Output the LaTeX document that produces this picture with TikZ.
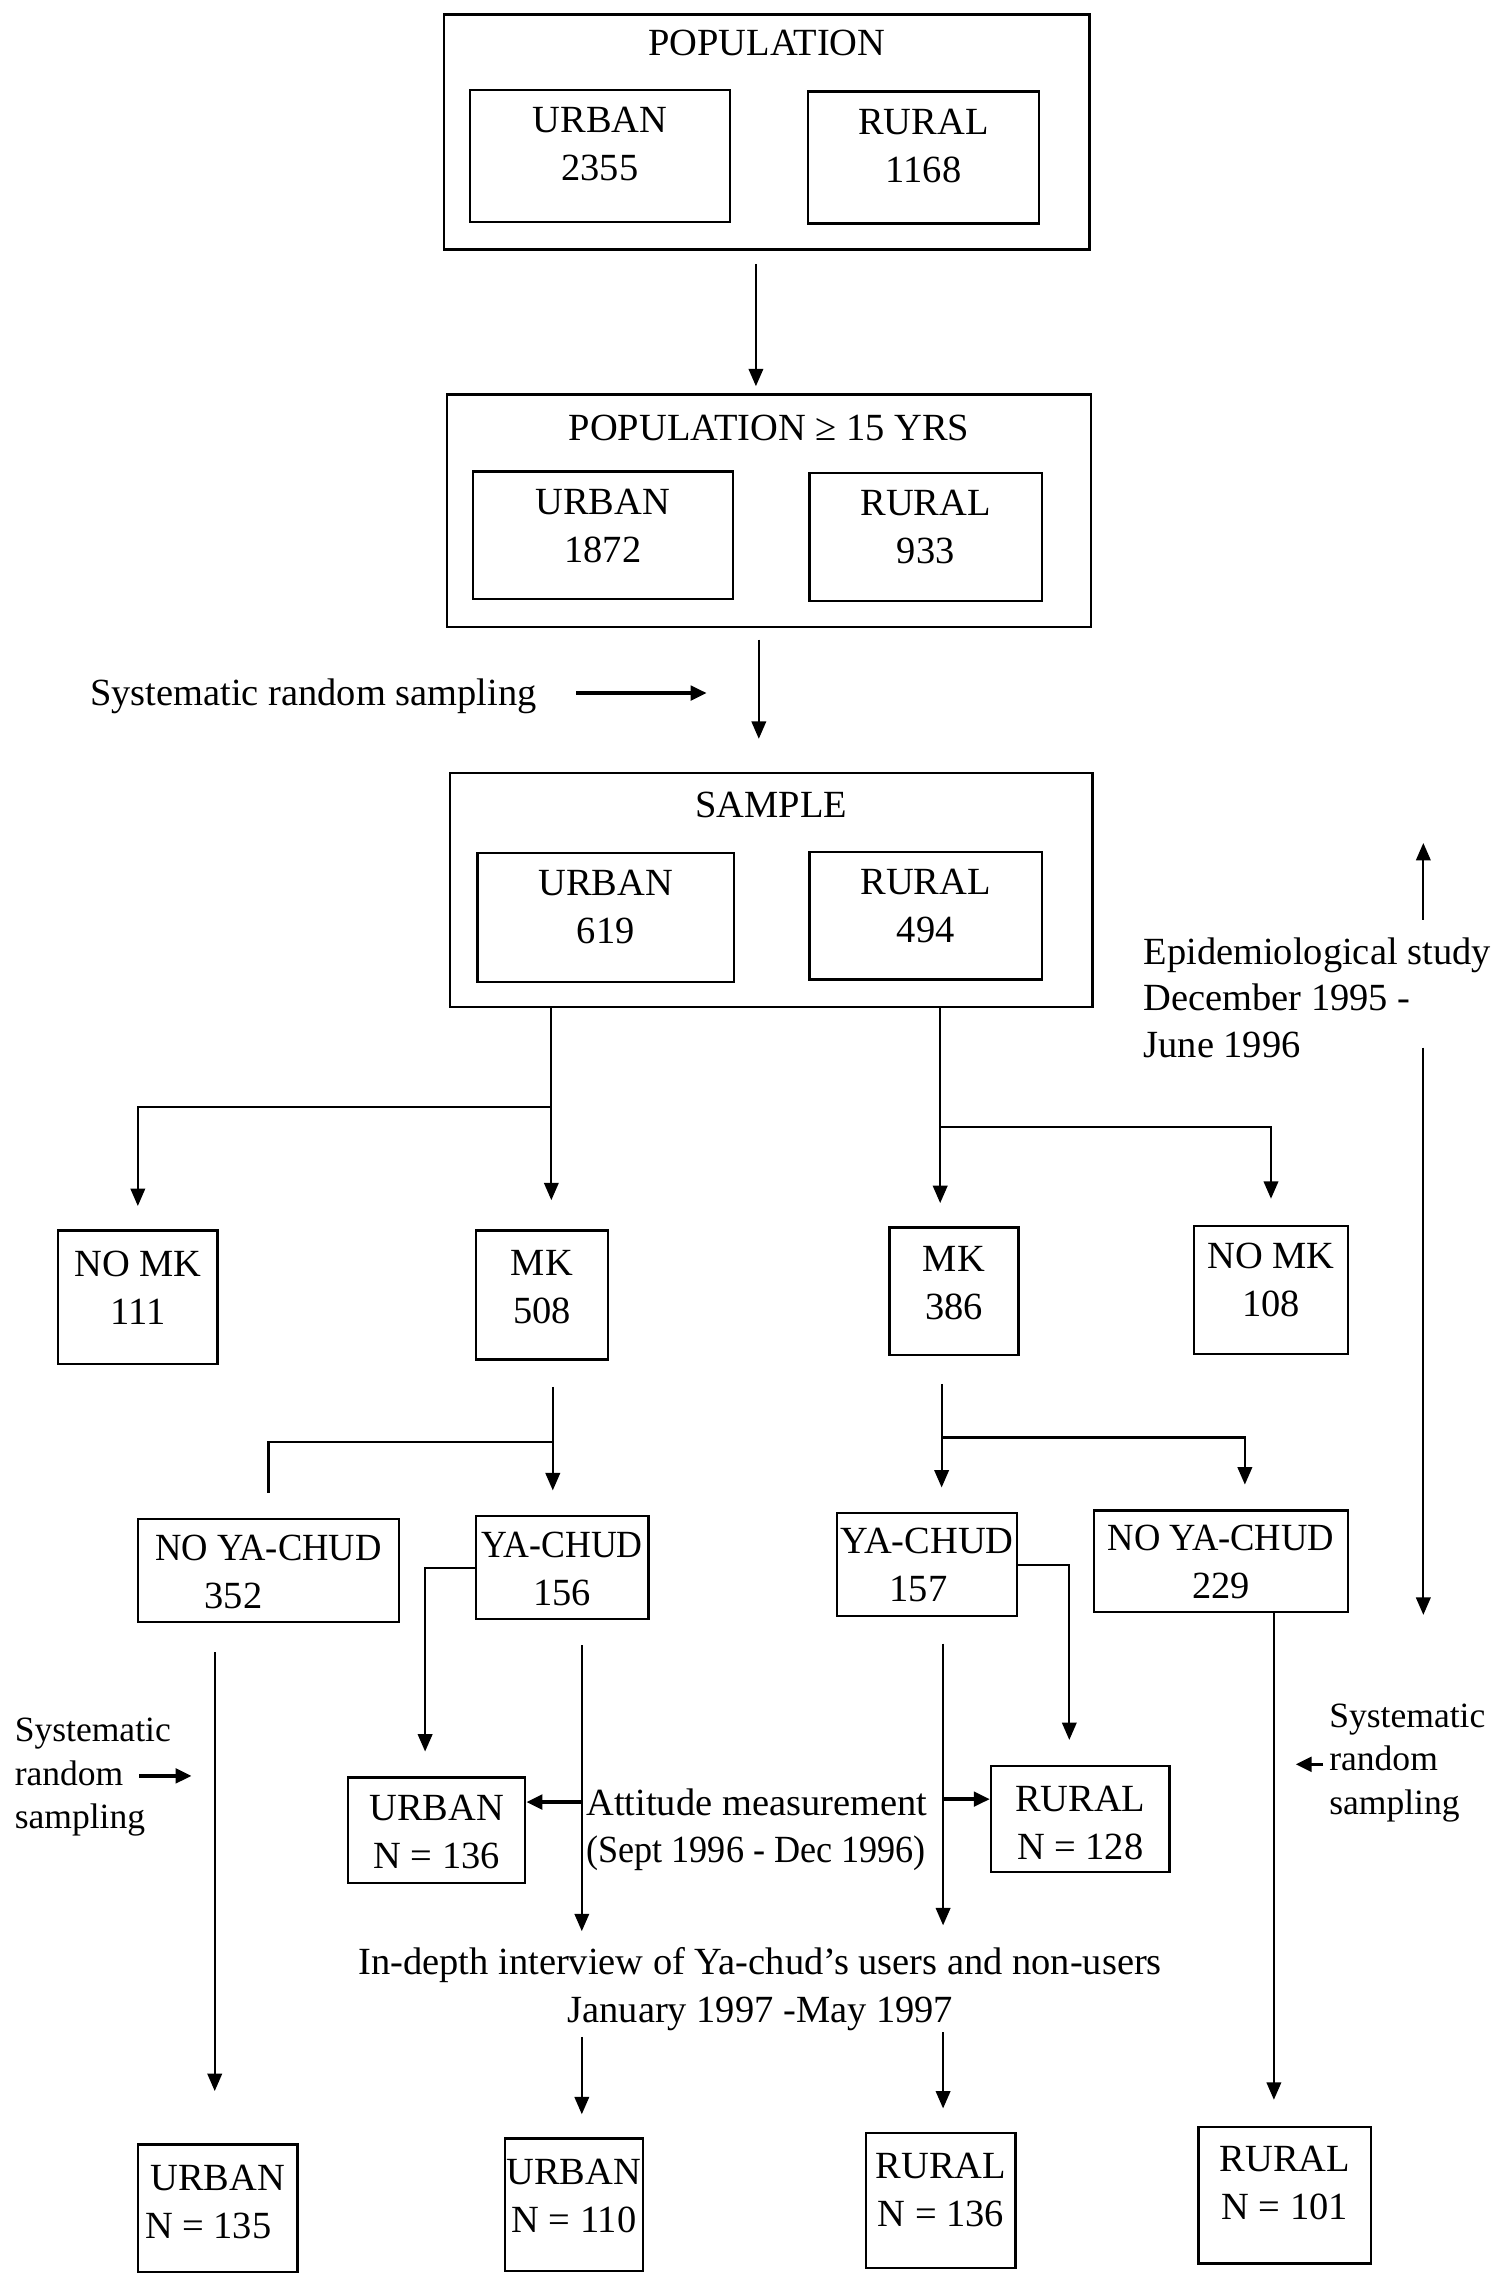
\documentclass[tikz,border=0pt]{standalone}
\usepackage{fontspec}
\usepackage{graphicx}
\setmainfont{Liberation Serif}
\usetikzlibrary{arrows.meta}
\newcommand{\bt}[4]{\parbox[c][#2][t]{#1}{\centering\vspace*{#3}#4\par}}
\begin{document}
\begin{tikzpicture}[x=1pt,y=-1pt,
  every node/.style={font=\fontsize{26.5}{33}\selectfont, inner sep=0pt},
  bx/.style={draw, line width=1.6pt},
  ln/.style={line width=1.5pt},
  arr/.style={line width=1.5pt, -{Triangle[length=12pt,width=10pt]}},
  tarr/.style={line width=2.4pt, -{Triangle[length=11pt,width=10pt]}},
  f30/.style={font=\fontsize{24.5}{30}\selectfont},
  f32/.style={font=\fontsize{26.5}{32}\selectfont}]
\useasboundingbox (0,0) rectangle (1030,1568);
\fill[white] (0,0) rectangle (1030,1568);

% boxes
\node[bx] (pop)  at (528.5,91)   {\bt{445pt}{162pt}{11pt}{POPULATION}};
\node[bx] (popU) at (413.5,107.5){\bt{179pt}{91pt}{12pt}{URBAN\\2355}};
\node[bx] (popR) at (636.5,108.5){\bt{159pt}{91pt}{12pt}{RURAL\\1168}};
\node[bx] (adu)  at (530,352)    {\bt{444pt}{160pt}{14pt}{POPULATION ≥ 15 YRS}};
\node[bx] (aduU) at (415.5,369)  {\bt{179pt}{88pt}{12pt}{URBAN\\1872}};
\node[bx] (aduR) at (638,370)    {\bt{160pt}{88pt}{12pt}{RURAL\\933}};
\node[bx] (smp)  at (531.5,613.5){\bt{443pt}{161pt}{13pt}{SAMPLE}};
\node[bx] (smpU) at (417.5,632.5){\bt{177pt}{89pt}{12pt}{URBAN\\619}};
\node[bx] (smpR) at (638,631)    {\bt{160pt}{88pt}{12pt}{RURAL\\494}};

\node[bx] (noMKu) at (95,894)     {\bt{110pt}{92pt}{14pt}{NO MK\\111}};
\node[bx] (MKu)   at (373.5,892.5){\bt{91pt}{89pt}{14pt}{MK\\508}};
\node[bx] (MKr)   at (657.5,890)  {\bt{89pt}{88pt}{13pt}{MK\\386}};
\node[bx] (noMKr) at (876,889)    {\bt{106pt}{88pt}{12pt}{NO MK\\108}};

\node[bx] (noYCu) at (185,1082.5) {\bt{180pt}{71pt}{11pt}{\scalebox{0.95}[1]{NO YA-CHUD}\\352\hspace*{48pt}}};
\node[bx] (YCu)   at (387.5,1080.5){\bt{119pt}{71pt}{11pt}{\scalebox{0.93}[1]{YA-CHUD}\\156}};
\node[bx] (YCr)   at (639,1078.5) {\bt{124pt}{71pt}{10pt}{\mbox{YA-CHUD}\\157\hspace*{12pt}}};
\node[bx] (noYCr) at (841.5,1076) {\bt{175pt}{70pt}{10pt}{\scalebox{0.95}[1]{NO YA-CHUD}\\229}};

\node[bx] (attU) at (301,1261.5)  {\bt{122pt}{73pt}{12pt}{URBAN\\N = 136}};
\node[bx] (attR) at (744.5,1253.5){\bt{123pt}{73pt}{14pt}{RURAL\\N = 128}};

\node[bx] (finU1) at (150,1522)    {\bt{110pt}{88pt}{14pt}{URBAN\hspace*{13pt}\\N = 135\hspace*{13pt}}};
\node[bx] (finU2) at (395.5,1519.5){\bt{95pt}{91pt}{14pt}{URBAN\\N = 110}};
\node[bx] (finR1) at (648.5,1516.5){\bt{103pt}{93pt}{14pt}{RURAL\\N = 136}};
\node[bx] (finR2) at (885.5,1513)  {\bt{119pt}{94pt}{13pt}{RURAL\\N = 101}};

% free texts
\node[anchor=base west] (sysT) at (62,486) {Systematic random sampling};
\node[anchor=north west, align=left, f32] (epi) at (788,646) {Epidemiological study\\December 1995 -\\June 1996};
\node[anchor=north west, align=left, f30] (sysL) at (10,1184) {Systematic\\random\\sampling};
\node[anchor=north west, align=left, f30] (sysR) at (916,1174) {Systematic\\random\\sampling};
\node[anchor=north west, align=left, f32] (att) at (404,1233) {Attitude measurement\\\scalebox{0.94}[1]{(Sept 1996 - Dec 1996)}};
\node[anchor=north, align=center] (indep) at (524,1342) {In-depth interview of Ya-chud's users and non-users\\January 1997 -May 1997};

% helper coordinates
\coordinate (xL) at (380,0);
\coordinate (xR) at (648,0);
\coordinate (xL2) at (381,0);
\coordinate (xR2) at (649,0);
\coordinate (xA) at (401,0);
\coordinate (xB) at (650,0);
\coordinate (xC) at (148,0);
\coordinate (xD) at (878,0);
\coordinate (yAttL) at (0,1242);
\coordinate (yAttR) at (0,1240);
\coordinate (sLa) at (96,1224);
\coordinate (sLb) at (132,1224);
\coordinate (sRa) at (912,1216);
\coordinate (sRb) at (893,1216);
\coordinate (eU) at (981,581);
\coordinate (eDs) at (981,722);
\coordinate (eD) at (981,1113);

% connectors
\draw[arr, shorten <=9pt, shorten >=5pt] ([xshift=-7.5pt]pop.south) -- ([xshift=-7.5pt]pop.south |- adu.north);
\draw[arr, shorten <=8pt, shorten >=23pt] ([xshift=-7pt]adu.south) -- ([xshift=-7pt]adu.south |- smp.north);
\draw[tarr] ([xshift=27pt,yshift=2pt]sysT.east) -- ([xshift=117pt,yshift=2pt]sysT.east);

\draw[arr, shorten >=20pt] (smp.south -| xL) -- (MKu.north -| xL);
\draw[arr, shorten >=16pt] (smp.south -| xL) ++(0,68) -| (noMKu.north);
\draw[arr, shorten >=16pt] (smp.south -| xR) -- (MKr.north -| xR);
\draw[arr, shorten >=18pt] (smp.south -| xR) ++(0,82) -| (noMKr.north);

\draw[arr, shorten <=18pt, shorten >=17pt] (MKu.south -| xL2) -- (YCu.north -| xL2);
\draw[ln] (MKu.south -| xL2) ++(0,56) -| ([yshift=17pt]noYCu.north);
\draw[arr, shorten <=19pt, shorten >=17pt] (MKr.south -| xR2) -- (YCr.north -| xR2);
\draw[arr, shorten >=17pt] (MKr.south -| xR2) ++(0,56) -| ([xshift=16.5pt]noYCr.north);

\draw[arr, shorten >=17pt] (YCu.west) -| ([xshift=-8pt]attU.north);
\draw[arr, shorten >=17pt] (YCr.east) -| ([xshift=-7.5pt]attR.north);

\draw[arr, shorten <=17pt, shorten >=11pt] (YCu.south -| xA) -- (indep.north -| xA);
\draw[arr, shorten <=18pt, shorten >=15pt] (YCr.south -| xB) -- (indep.north -| xB);
\draw[tarr] (xA |- yAttL) -- (attU.east |- yAttL);
\draw[tarr] (xB |- yAttR) -- (attR.west |- yAttR);

\draw[arr, shorten <=4pt, shorten >=16pt] (indep.south -| xA) -- (finU2.north -| xA);
\draw[arr, shorten <=1pt, shorten >=16pt] (indep.south -| xB) -- (finR1.north -| xB);

\draw[arr, shorten <=20pt, shorten >=36pt] (noYCu.south -| xC) -- (finU1.north -| xC);
\draw[arr, shorten >=18pt] (noYCr.south -| xD) -- (finR2.north -| xD);

\draw[tarr] (sLa) -- (sLb);
\draw[tarr] (sRa) -- (sRb);
\draw[arr, shorten <=12pt] (epi.north -| eU) -- (eU);
\draw[arr] (eDs) -- (eD);
\end{tikzpicture}
\end{document}
